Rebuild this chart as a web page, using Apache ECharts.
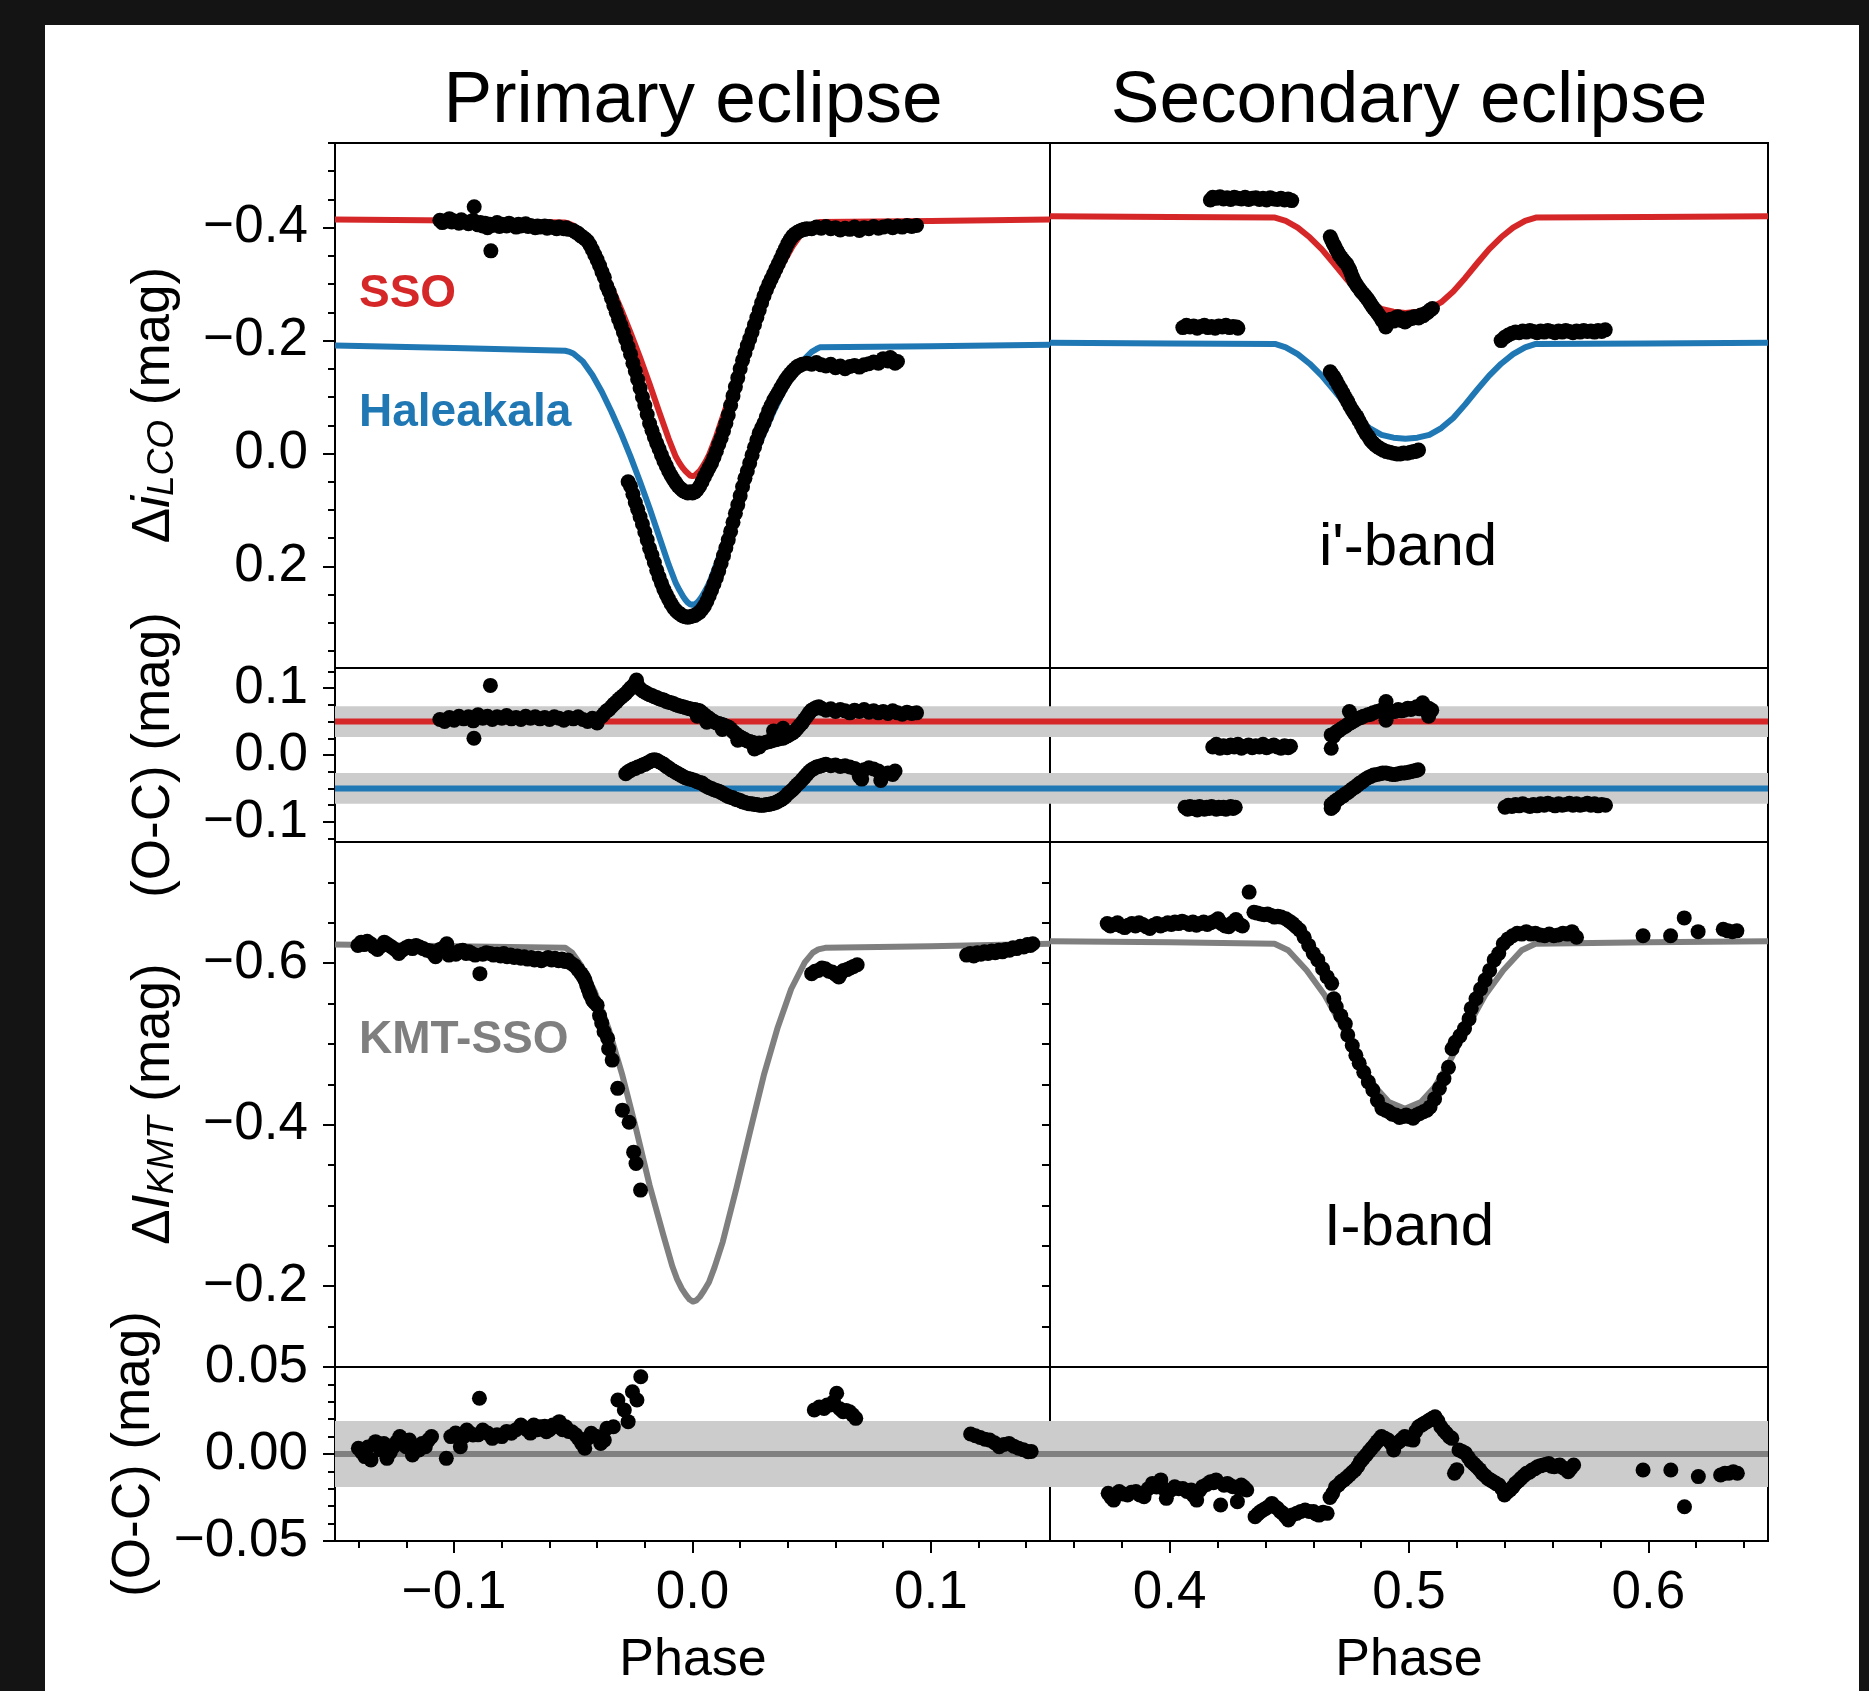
<!DOCTYPE html>
<html>
<head>
<meta charset="utf-8">
<script src="https://cdn.jsdelivr.net/npm/echarts@6/dist/echarts.min.js"></script>
<style>
html,body{margin:0;padding:0;background:#141414;width:1869px;height:1691px;overflow:hidden}
#chart{position:absolute;left:45px;top:25px;width:1814px;height:1666px;background:#ffffff}
</style>
</head>
<body>
<div id="chart"></div>
<script>
// ---------------- axis ranges & ticks ----------------
const X_LEFT = [-0.15, 0.15];
const X_RIGHT = [0.35, 0.65];
const X_MAJOR_LEFT = [-0.1, 0.0, 0.1];
const X_MINOR_LEFT = [-0.14, -0.12, -0.08, -0.06, -0.04, -0.02, 0.02, 0.04, 0.06, 0.08, 0.12, 0.14];
const X_MAJOR_RIGHT = [0.4, 0.5, 0.6];
const X_MINOR_RIGHT = [0.36, 0.38, 0.42, 0.44, 0.46, 0.48, 0.52, 0.54, 0.56, 0.58, 0.62, 0.64];

const Y_LCO = [-0.55, 0.38];
const Y_LCO_MAJOR = [-0.4, -0.2, 0.0, 0.2];
const Y_LCO_MINOR = [-0.55, -0.5, -0.45, -0.35, -0.3, -0.25, -0.15, -0.1, -0.05, 0.05, 0.1, 0.15, 0.25, 0.3, 0.35];
const Y_OC1 = [-0.13, 0.13];
const Y_OC1_MAJOR = [0.1, 0.0, -0.1];
const Y_OC1_MINOR = [0.125, 0.075, 0.05, 0.025, -0.025, -0.05, -0.075, -0.125];
const Y_KMT = [-0.75, -0.10];
const Y_KMT_MAJOR = [-0.6, -0.4, -0.2];
const Y_KMT_MINOR = [-0.7, -0.65, -0.55, -0.5, -0.45, -0.35, -0.3, -0.25, -0.15];
const Y_KMT_RIGHT_TICKS = [-0.7, -0.65, -0.6, -0.55, -0.5, -0.45, -0.4, -0.35, -0.3, -0.25, -0.2, -0.15];
const Y_OC2 = [-0.05, 0.05];
const Y_OC2_MAJOR = [0.05, 0.0, -0.05];
const Y_OC2_MINOR = [0.04, 0.03, 0.02, 0.01, -0.01, -0.02, -0.03, -0.04];

// O-C reference levels and shaded half widths
const OC1_LEVELS = [0.05, -0.05];   // SSO, Haleakala
const OC1_BAND = 0.023;
const OC2_LEVEL = 0.0;
const OC2_BAND = 0.019;

// ---------------- models ----------------
const model_sso_primary = [[-0.150,-0.4145],[-0.100,-0.4125],[-0.0534,-0.409],[-0.052,-0.4075],[-0.050,-0.404],[-0.046,-0.389],[-0.042,-0.363],[-0.038,-0.331],[-0.034,-0.295],[-0.030,-0.256],[-0.026,-0.214],[-0.022,-0.170],[-0.018,-0.123],[-0.014,-0.074],[-0.010,-0.026],[-0.007,0.006],[-0.0055,0.017],[-0.004,0.026],[-0.003,0.031],[-0.002,0.035],[-0.001,0.039],[0.000,0.040],[0.001,0.039],[0.002,0.035],[0.003,0.031],[0.004,0.025],[0.0055,0.0145],[0.007,0.002],[0.010,-0.031],[0.014,-0.081],[0.018,-0.131],[0.022,-0.178],[0.026,-0.222],[0.030,-0.264],[0.034,-0.302],[0.038,-0.337],[0.042,-0.367],[0.046,-0.391],[0.050,-0.405],[0.052,-0.408],[0.0534,-0.410],[0.100,-0.412],[0.150,-0.4145]];
const model_hal_primary = [[-0.150,-0.1915],[-0.100,-0.187],[-0.0534,-0.182],[-0.052,-0.1805],[-0.050,-0.177],[-0.046,-0.163],[-0.042,-0.139],[-0.038,-0.109],[-0.034,-0.074],[-0.030,-0.036],[-0.026,0.0056],[-0.022,0.050],[-0.018,0.097],[-0.014,0.147],[-0.010,0.197],[-0.007,0.2298],[-0.0055,0.242],[-0.004,0.253],[-0.003,0.259],[-0.002,0.264],[-0.001,0.267],[0.000,0.268],[0.001,0.267],[0.002,0.264],[0.003,0.259],[0.004,0.253],[0.0055,0.242],[0.007,0.2298],[0.010,0.197],[0.014,0.147],[0.018,0.097],[0.022,0.050],[0.026,0.0056],[0.030,-0.036],[0.034,-0.074],[0.038,-0.109],[0.042,-0.139],[0.046,-0.163],[0.050,-0.180],[0.052,-0.185],[0.0534,-0.188],[0.100,-0.190],[0.150,-0.1925]];
const model_sso_secondary = [[0.350,-0.4204],[0.400,-0.419],[0.444,-0.418],[0.4485,-0.412],[0.4535,-0.400],[0.4585,-0.383],[0.4635,-0.362],[0.4685,-0.337],[0.4735,-0.311],[0.4785,-0.287],[0.4835,-0.268],[0.4885,-0.256],[0.4935,-0.251],[0.4985,-0.249],[0.5035,-0.251],[0.5085,-0.256],[0.5135,-0.268],[0.5185,-0.287],[0.5235,-0.311],[0.5285,-0.337],[0.5335,-0.362],[0.5385,-0.383],[0.5435,-0.400],[0.5485,-0.412],[0.553,-0.418],[0.600,-0.419],[0.650,-0.4204]];
const model_hal_secondary = [[0.350,-0.1962],[0.400,-0.195],[0.444,-0.194],[0.4485,-0.188],[0.4535,-0.176],[0.4585,-0.159],[0.4635,-0.138],[0.4685,-0.113],[0.4735,-0.087],[0.4785,-0.063],[0.4835,-0.045],[0.4885,-0.033],[0.4935,-0.028],[0.4985,-0.026],[0.5035,-0.028],[0.5085,-0.033],[0.5135,-0.045],[0.5185,-0.063],[0.5235,-0.087],[0.5285,-0.113],[0.5335,-0.138],[0.5385,-0.159],[0.5435,-0.176],[0.5485,-0.188],[0.553,-0.194],[0.600,-0.195],[0.650,-0.1962]];
const model_kmt_primary = [[-0.150,-0.623],[-0.100,-0.621],[-0.0534,-0.619],[-0.0505,-0.613],[-0.0467,-0.597],[-0.0409,-0.564],[-0.0352,-0.519],[-0.0294,-0.461],[-0.0237,-0.395],[-0.018,-0.325],[-0.0122,-0.263],[-0.0085,-0.225],[-0.0065,-0.209],[-0.0045,-0.197],[-0.0027,-0.189],[-0.0012,-0.1835],[0.0002,-0.181],[0.0016,-0.1825],[0.0031,-0.187],[0.0049,-0.195],[0.0069,-0.205],[0.0092,-0.223],[0.0127,-0.255],[0.0184,-0.321],[0.0241,-0.391],[0.0299,-0.461],[0.0356,-0.519],[0.0414,-0.568],[0.0471,-0.601],[0.0505,-0.613],[0.0528,-0.617],[0.0557,-0.619],[0.100,-0.621],[0.150,-0.624]];
const model_kmt_secondary = [[0.350,-0.627],[0.400,-0.626],[0.4438,-0.6241],[0.4495,-0.6159],[0.4572,-0.5911],[0.4648,-0.5602],[0.4725,-0.5189],[0.4801,-0.4756],[0.4859,-0.4467],[0.4916,-0.4281],[0.4983,-0.4198],[0.505,-0.4281],[0.5107,-0.4467],[0.5165,-0.4756],[0.5241,-0.5189],[0.5318,-0.5602],[0.5394,-0.5911],[0.5471,-0.6159],[0.5528,-0.6241],[0.600,-0.626],[0.650,-0.627]];

// ---------------- observations (phase, mag) ----------------
const sso_primary = [[-0.106,-0.413],[-0.105,-0.409],[-0.104,-0.411],[-0.102,-0.416],[-0.101,-0.410],[-0.100,-0.412],[-0.098,-0.408],[-0.097,-0.414],[-0.096,-0.410],[-0.094,-0.407],[-0.093,-0.411],[-0.092,-0.413],[-0.0916,-0.437],[-0.090,-0.405],[-0.089,-0.409],[-0.088,-0.403],[-0.087,-0.408],[-0.086,-0.400],[-0.085,-0.406],[-0.0846,-0.359],[-0.084,-0.404],[-0.082,-0.409],[-0.081,-0.402],[-0.080,-0.406],[-0.078,-0.403],[-0.077,-0.408],[-0.076,-0.405],[-0.074,-0.401],[-0.073,-0.406],[-0.072,-0.403],[-0.070,-0.407],[-0.069,-0.402],[-0.068,-0.404],[-0.066,-0.400],[-0.065,-0.403],[-0.064,-0.401],[-0.062,-0.403],[-0.061,-0.399],[-0.060,-0.402],[-0.058,-0.400],[-0.057,-0.398],[-0.056,-0.401],[-0.054,-0.398],[-0.053,-0.400],[-0.052,-0.397],[-0.050,-0.395],[-0.049,-0.392],[-0.048,-0.390],[-0.047,-0.386],
[-0.046,-0.383],[-0.045,-0.380],[-0.044,-0.376],[-0.043,-0.369],[-0.042,-0.361],[-0.041,-0.352],[-0.040,-0.343],[-0.039,-0.333],[-0.038,-0.322],[-0.037,-0.312],[-0.036,-0.297],[-0.035,-0.287],[-0.034,-0.275],[-0.033,-0.262],[-0.032,-0.250],[-0.031,-0.238],[-0.030,-0.227],[-0.029,-0.215],[-0.028,-0.202],[-0.027,-0.189],[-0.026,-0.176],[-0.025,-0.160],[-0.024,-0.146],[-0.023,-0.131],[-0.022,-0.116],[-0.021,-0.100],[-0.020,-0.085],[-0.019,-0.069],[-0.018,-0.053],[-0.017,-0.041],[-0.016,-0.029],[-0.015,-0.018],[-0.014,-0.008],[-0.013,0.003],[-0.012,0.013],[-0.011,0.022],[-0.010,0.031],[-0.009,0.039],[-0.008,0.046],[-0.007,0.052],[-0.006,0.058],[-0.005,0.062],[-0.004,0.066],[-0.003,0.068],[-0.002,0.070],[-0.001,0.068],[0.000,0.070],
[0.001,0.068],[0.002,0.064],[0.003,0.058],[0.004,0.050],[0.005,0.041],[0.006,0.033],[0.007,0.025],[0.008,0.017],[0.009,0.007],[0.010,-0.004],[0.011,-0.016],[0.012,-0.027],[0.013,-0.040],[0.014,-0.053],[0.015,-0.068],[0.016,-0.085],[0.017,-0.102],[0.018,-0.118],[0.019,-0.134],[0.020,-0.150],[0.021,-0.165],[0.022,-0.178],[0.023,-0.191],[0.024,-0.203],[0.025,-0.215],[0.026,-0.228],[0.027,-0.241],[0.028,-0.254],[0.029,-0.267],[0.030,-0.279],[0.031,-0.290],[0.032,-0.300],[0.033,-0.309],[0.034,-0.318],[0.035,-0.327],[0.036,-0.336],[0.037,-0.345],[0.038,-0.354],[0.039,-0.363],[0.040,-0.372],[0.041,-0.379],[0.042,-0.385],[0.043,-0.389],[0.044,-0.392],[0.045,-0.394],[0.046,-0.396],[0.047,-0.397],[0.048,-0.398],
[0.050,-0.398],[0.052,-0.401],[0.054,-0.399],[0.056,-0.402],[0.058,-0.398],[0.060,-0.400],[0.062,-0.396],[0.064,-0.399],[0.066,-0.397],[0.068,-0.401],[0.070,-0.395],[0.072,-0.400],[0.074,-0.398],[0.076,-0.402],[0.078,-0.399],[0.080,-0.401],[0.082,-0.403],[0.084,-0.400],[0.086,-0.403],[0.088,-0.401],[0.090,-0.404],[0.092,-0.402],[0.094,-0.404]];

const hal_primary = [[-0.027,0.050],[-0.026,0.058],[-0.025,0.072],[-0.024,0.087],[-0.023,0.099],[-0.022,0.112],[-0.021,0.125],[-0.020,0.139],[-0.019,0.153],[-0.018,0.168],[-0.017,0.180],[-0.016,0.193],[-0.015,0.207],[-0.014,0.219],[-0.013,0.230],[-0.012,0.241],[-0.011,0.250],[-0.010,0.258],[-0.009,0.266],[-0.008,0.273],[-0.007,0.278],[-0.006,0.282],[-0.005,0.285],[-0.004,0.288],[-0.003,0.289],[-0.002,0.290],[-0.001,0.289],[0.000,0.288],[0.001,0.287],[0.002,0.284],[0.003,0.281],[0.004,0.276],[0.005,0.270],[0.006,0.262],[0.007,0.252],[0.008,0.242],[0.009,0.231],[0.010,0.220],[0.011,0.208],[0.012,0.195],[0.013,0.181],[0.014,0.167],[0.015,0.153],[0.016,0.138],[0.017,0.122],[0.018,0.106],[0.019,0.091],[0.020,0.075],[0.021,0.059],[0.022,0.044],[0.023,0.031],[0.024,0.017],[0.025,0.003],[0.026,-0.011],[0.027,-0.024],[0.028,-0.036],[0.029,-0.045],[0.030,-0.054],[0.031,-0.065],[0.032,-0.076],[0.033,-0.085],[0.034,-0.094],[0.035,-0.101],[0.036,-0.108],[0.037,-0.116],[0.038,-0.123],[0.039,-0.130],[0.040,-0.136],[0.041,-0.141],[0.042,-0.146],[0.043,-0.150],[0.044,-0.154],[0.045,-0.156],[0.046,-0.158],
[0.048,-0.160],[0.050,-0.158],[0.052,-0.161],[0.054,-0.157],[0.056,-0.155],[0.058,-0.158],[0.060,-0.152],[0.062,-0.155],[0.064,-0.150],[0.066,-0.154],[0.068,-0.156],[0.070,-0.153],[0.072,-0.157],[0.074,-0.159],[0.076,-0.162],[0.078,-0.160],[0.080,-0.168],[0.082,-0.164],[0.083,-0.170],[0.084,-0.166],[0.085,-0.160],[0.086,-0.163]];

const sso_secondary = [[0.417,-0.449],[0.418,-0.454],[0.4195,-0.452],[0.421,-0.455],[0.4225,-0.451],[0.424,-0.453],[0.4255,-0.450],[0.427,-0.454],[0.4285,-0.452],[0.430,-0.451],[0.4315,-0.454],[0.433,-0.450],[0.4345,-0.452],[0.436,-0.453],[0.4375,-0.450],[0.439,-0.452],[0.4405,-0.449],[0.442,-0.453],[0.4435,-0.451],[0.445,-0.450],[0.4465,-0.452],[0.448,-0.449],[0.4495,-0.451],[0.451,-0.448],
[0.4671,-0.3838],[0.4677,-0.378],[0.4683,-0.372],[0.469,-0.367],[0.4696,-0.3614],[0.4703,-0.356],[0.4709,-0.3513],[0.4717,-0.347],[0.4725,-0.3425],[0.4732,-0.339],[0.474,-0.3354],[0.4747,-0.330],[0.4753,-0.3248],[0.4758,-0.319],[0.4763,-0.313],[0.4768,-0.308],[0.4772,-0.3042],[0.4779,-0.300],[0.4786,-0.2953],[0.4794,-0.291],[0.4801,-0.2865],[0.4809,-0.283],[0.4817,-0.2788],[0.4824,-0.275],[0.483,-0.2717],[0.4837,-0.267],[0.4843,-0.2629],[0.4851,-0.258],[0.4859,-0.254],[0.4866,-0.250],[0.4874,-0.2452],[0.4881,-0.241],[0.4887,-0.2363],[0.4895,-0.232],[0.4903,-0.2240],[0.491,-0.230],[0.4916,-0.2363],[0.4925,-0.238],[0.4935,-0.2345],[0.4945,-0.241],[0.4954,-0.2422],[0.4963,-0.236],[0.4973,-0.2393],[0.4983,-0.233],[0.4993,-0.2363],[0.5002,-0.240],[0.5012,-0.2393],[0.5021,-0.242],[0.5031,-0.2422],[0.504,-0.240],[0.505,-0.2452],[0.506,-0.244],[0.5069,-0.2481],[0.5078,-0.250],[0.5088,-0.254],[0.5098,-0.2569]];

const hal_secondary = [[0.4055,-0.223],[0.407,-0.227],[0.4085,-0.224],[0.410,-0.226],[0.4115,-0.222],[0.413,-0.225],[0.4145,-0.227],[0.416,-0.223],[0.4175,-0.225],[0.419,-0.222],[0.4205,-0.226],[0.422,-0.224],[0.4235,-0.227],[0.425,-0.223],[0.4265,-0.225],[0.428,-0.224],[0.4285,-0.222],
[0.4671,-0.1449],[0.4678,-0.140],[0.4686,-0.136],[0.4695,-0.129],[0.4705,-0.1213],[0.4715,-0.114],[0.4725,-0.1065],[0.4734,-0.099],[0.4744,-0.0918],[0.4753,-0.084],[0.4763,-0.077],[0.4772,-0.071],[0.4782,-0.0652],[0.4791,-0.058],[0.4801,-0.0505],[0.481,-0.043],[0.482,-0.0357],[0.483,-0.030],[0.4839,-0.0239],[0.4849,-0.019],[0.4859,-0.015],[0.4868,-0.012],[0.4878,-0.0092],[0.4892,-0.006],[0.4906,-0.0033],[0.492,-0.002],[0.4935,-0.0003],[0.495,0.001],[0.4964,0.0009],[0.4978,-0.001],[0.4993,-0.0003],[0.5007,-0.002],[0.5021,-0.0033],[0.503,-0.004],[0.504,-0.006],
[0.5385,-0.200],[0.540,-0.206],[0.5415,-0.210],[0.543,-0.213],[0.5445,-0.215],[0.546,-0.214],[0.5475,-0.217],[0.549,-0.215],[0.5505,-0.218],[0.552,-0.216],[0.5535,-0.214],[0.555,-0.217],[0.5565,-0.215],[0.558,-0.218],[0.5595,-0.216],[0.561,-0.214],[0.5625,-0.217],[0.564,-0.215],[0.5655,-0.218],[0.567,-0.216],[0.5685,-0.214],[0.570,-0.217],[0.5715,-0.215],[0.573,-0.218],[0.5745,-0.216],[0.576,-0.217],[0.5775,-0.215],[0.579,-0.218],[0.5805,-0.216],[0.582,-0.219]];

const oc_sso_primary = [[-0.106,0.053],[-0.104,0.050],[-0.102,0.056],[-0.100,0.052],[-0.098,0.058],[-0.096,0.054],[-0.094,0.057],[-0.092,0.051],[-0.0917,0.025],[-0.090,0.060],[-0.088,0.055],[-0.086,0.058],[-0.0848,0.104],[-0.084,0.053],[-0.082,0.057],[-0.080,0.055],[-0.078,0.059],[-0.076,0.054],[-0.074,0.056],[-0.072,0.053],[-0.070,0.058],[-0.068,0.055],[-0.066,0.057],[-0.064,0.054],[-0.062,0.056],[-0.060,0.053],[-0.058,0.057],[-0.056,0.055],[-0.054,0.052],[-0.052,0.056],[-0.050,0.054],[-0.048,0.057],[-0.046,0.053],[-0.044,0.050],[-0.042,0.055],[-0.040,0.048],[-0.038,0.058],
[-0.037,0.062],[-0.036,0.066],[-0.035,0.068],[-0.034,0.072],[-0.033,0.076],[-0.032,0.079],[-0.031,0.083],[-0.030,0.086],[-0.029,0.089],[-0.028,0.092],[-0.027,0.096],[-0.026,0.100],[-0.025,0.103],[-0.024,0.108],[-0.0235,0.112],[-0.023,0.104],[-0.022,0.099],[-0.021,0.096],[-0.020,0.094],[-0.019,0.092],[-0.018,0.090],[-0.017,0.089],[-0.016,0.087],[-0.015,0.086],[-0.014,0.084],[-0.013,0.083],[-0.012,0.082],[-0.011,0.080],[-0.010,0.079],[-0.009,0.078],[-0.008,0.077],[-0.007,0.075],[-0.006,0.074],[-0.005,0.073],[-0.004,0.072],[-0.003,0.071],[-0.002,0.070],[-0.001,0.069],[0.000,0.068],[0.001,0.068],[0.002,0.067],[0.002,0.058],[0.003,0.066],[0.004,0.063],[0.005,0.060],[0.006,0.057],[0.006,0.049],[0.007,0.055],[0.008,0.052],[0.009,0.050],[0.010,0.048],[0.011,0.047],[0.012,0.046],[0.0125,0.038],[0.013,0.045],[0.014,0.043],[0.015,0.042],[0.016,0.039],[0.017,0.035],[0.018,0.032],[0.019,0.029],[0.019,0.022],[0.020,0.027],[0.021,0.025],[0.022,0.023],[0.023,0.021],[0.024,0.020],[0.025,0.019],[0.026,0.018],[0.026,0.009],[0.027,0.017],[0.028,0.018],[0.028,0.012],[0.029,0.017],[0.030,0.018],[0.031,0.019],[0.032,0.020],[0.033,0.021],[0.034,0.022],[0.034,0.036],[0.035,0.023],[0.036,0.024],[0.037,0.025],[0.038,0.025],[0.038,0.040],[0.039,0.027],[0.040,0.029],[0.041,0.031],[0.042,0.033],[0.043,0.036],[0.044,0.040],[0.045,0.044],[0.046,0.048],[0.047,0.053],[0.048,0.058],[0.049,0.063],[0.050,0.067],[0.051,0.069],[0.052,0.071],[0.053,0.072],[0.054,0.070],
[0.056,0.067],[0.058,0.069],[0.060,0.065],[0.062,0.068],[0.064,0.066],[0.066,0.063],[0.068,0.067],[0.070,0.065],[0.072,0.068],[0.074,0.064],[0.076,0.066],[0.078,0.063],[0.080,0.065],[0.082,0.062],[0.084,0.066],[0.086,0.063],[0.088,0.061],[0.090,0.064],[0.092,0.062],[0.094,0.063]];

const oc_hal_primary = [[-0.028,-0.028],[-0.027,-0.025],[-0.026,-0.023],[-0.025,-0.021],[-0.024,-0.020],[-0.023,-0.018],[-0.022,-0.017],[-0.021,-0.015],[-0.020,-0.014],[-0.019,-0.012],[-0.018,-0.010],[-0.017,-0.008],[-0.016,-0.007],[-0.015,-0.008],[-0.014,-0.010],[-0.013,-0.012],[-0.012,-0.014],[-0.011,-0.017],[-0.010,-0.019],[-0.009,-0.022],[-0.008,-0.024],[-0.007,-0.026],[-0.006,-0.028],[-0.005,-0.030],[-0.004,-0.032],[-0.003,-0.034],[-0.002,-0.035],[-0.001,-0.036],[0.000,-0.037],[0.001,-0.038],[0.002,-0.040],[0.003,-0.041],[0.004,-0.042],[0.005,-0.045],[0.006,-0.047],[0.007,-0.049],[0.008,-0.050],[0.009,-0.052],[0.010,-0.053],[0.011,-0.054],[0.012,-0.056],[0.013,-0.058],[0.014,-0.060],[0.015,-0.062],[0.016,-0.063],[0.017,-0.064],[0.018,-0.066],[0.019,-0.067],[0.020,-0.068],[0.021,-0.070],[0.022,-0.071],[0.023,-0.072],[0.024,-0.073],[0.025,-0.073],[0.026,-0.074],[0.027,-0.074],[0.028,-0.075],[0.029,-0.075],[0.030,-0.075],[0.031,-0.074],[0.032,-0.074],[0.033,-0.073],[0.034,-0.072],[0.035,-0.071],[0.036,-0.069],[0.037,-0.067],[0.038,-0.065],[0.039,-0.062],[0.040,-0.058],[0.041,-0.055],[0.042,-0.052],[0.043,-0.048],[0.044,-0.044],[0.045,-0.041],[0.046,-0.037],[0.047,-0.033],[0.048,-0.029],[0.049,-0.025],[0.050,-0.022],[0.051,-0.020],[0.052,-0.018],[0.053,-0.017],[0.054,-0.016],[0.055,-0.015],[0.056,-0.014],[0.058,-0.016],[0.060,-0.015],[0.062,-0.017],[0.064,-0.016],[0.066,-0.018],[0.068,-0.020],[0.070,-0.032],[0.071,-0.036],[0.072,-0.022],[0.074,-0.019],[0.076,-0.021],[0.078,-0.024],[0.079,-0.038],[0.080,-0.030],[0.082,-0.027],[0.084,-0.029],[0.085,-0.024]];

const oc_sso_secondary = [[0.418,0.012],[0.4195,0.016],[0.421,0.010],[0.4225,0.014],[0.424,0.011],[0.4255,0.015],[0.427,0.012],[0.4285,0.016],[0.430,0.010],[0.4315,0.013],[0.433,0.015],[0.4345,0.011],[0.436,0.014],[0.4375,0.012],[0.439,0.016],[0.4405,0.011],[0.442,0.013],[0.4435,0.015],[0.445,0.012],[0.4465,0.010],[0.448,0.014],[0.4495,0.011],[0.4505,0.013],
[0.4675,0.030],[0.4675,0.010],[0.4685,0.028],[0.4695,0.034],[0.4705,0.036],[0.4713,0.038],[0.4725,0.041],[0.4735,0.043],[0.4745,0.046],[0.4751,0.065],[0.4755,0.048],[0.4765,0.050],[0.4775,0.052],[0.4789,0.055],[0.480,0.056],[0.481,0.058],[0.4828,0.060],[0.484,0.061],[0.485,0.063],[0.4866,0.065],[0.488,0.066],[0.489,0.068],[0.4904,0.070],[0.4904,0.080],[0.4904,0.052],[0.4915,0.067],[0.4925,0.064],[0.4942,0.065],[0.4955,0.068],[0.4968,0.066],[0.498,0.067],[0.4995,0.070],[0.5008,0.068],[0.5019,0.070],[0.5032,0.072],[0.5045,0.069],[0.5057,0.072],[0.5057,0.078],[0.507,0.068],[0.5082,0.070],[0.5082,0.058],[0.5095,0.067]];

const oc_hal_secondary = [[0.4064,-0.078],[0.4075,-0.081],[0.4085,-0.077],[0.4095,-0.080],[0.4105,-0.078],[0.4115,-0.082],[0.4125,-0.077],[0.4135,-0.079],[0.4145,-0.081],[0.4155,-0.078],[0.4165,-0.080],[0.4175,-0.077],[0.4185,-0.079],[0.4195,-0.081],[0.4205,-0.078],[0.4215,-0.080],[0.4225,-0.078],[0.4235,-0.081],[0.4245,-0.079],[0.4255,-0.077],[0.4265,-0.080],[0.4274,-0.078],
[0.4675,-0.074],[0.4675,-0.080],[0.4685,-0.071],[0.4685,-0.077],[0.4695,-0.068],[0.4705,-0.066],[0.4715,-0.063],[0.4725,-0.061],[0.4735,-0.058],[0.4745,-0.056],[0.4755,-0.053],[0.4765,-0.050],[0.4775,-0.048],[0.4785,-0.045],[0.4795,-0.042],[0.4805,-0.040],[0.4815,-0.037],[0.4828,-0.034],[0.484,-0.032],[0.4852,-0.030],[0.4866,-0.029],[0.488,-0.028],[0.489,-0.027],[0.4904,-0.027],[0.4918,-0.028],[0.493,-0.029],[0.4942,-0.029],[0.4955,-0.028],[0.4968,-0.027],[0.498,-0.027],[0.4993,-0.026],[0.5006,-0.025],[0.5019,-0.024],[0.503,-0.023],[0.5038,-0.022],
[0.5401,-0.078],[0.5415,-0.075],[0.543,-0.077],[0.5445,-0.074],[0.546,-0.076],[0.5475,-0.073],[0.549,-0.075],[0.5505,-0.077],[0.552,-0.074],[0.5535,-0.076],[0.555,-0.073],[0.5565,-0.075],[0.558,-0.072],[0.5595,-0.074],[0.561,-0.076],[0.5625,-0.073],[0.564,-0.075],[0.5655,-0.074],[0.567,-0.072],[0.5685,-0.075],[0.570,-0.073],[0.5715,-0.075],[0.573,-0.074],[0.5745,-0.072],[0.576,-0.075],[0.5775,-0.073],[0.579,-0.076],[0.5805,-0.074],[0.5821,-0.075]];

const kmt_primary = [[-0.1404,-0.622],[-0.1390,-0.626],[-0.1378,-0.623],[-0.1365,-0.627],[-0.1350,-0.624],[-0.1336,-0.620],[-0.1322,-0.617],[-0.1308,-0.621],[-0.1293,-0.626],[-0.1278,-0.623],[-0.1262,-0.620],[-0.1248,-0.617],[-0.1232,-0.612],[-0.1218,-0.616],[-0.1203,-0.619],[-0.1190,-0.621],[-0.1175,-0.618],[-0.1160,-0.622],[-0.1145,-0.620],[-0.1130,-0.618],[-0.1115,-0.616],[-0.1100,-0.615],[-0.1088,-0.612],[-0.1078,-0.608],[-0.1060,-0.617],[-0.1045,-0.619],[-0.1031,-0.624],[-0.1022,-0.610],[-0.1008,-0.613],[-0.0993,-0.611],[-0.0978,-0.615],[-0.0964,-0.616],[-0.0950,-0.612],[-0.0938,-0.614],[-0.0926,-0.612],[-0.0912,-0.610],[-0.0892,-0.587],[-0.0880,-0.611],[-0.0865,-0.613],[-0.0849,-0.612],[-0.0835,-0.610],[-0.0820,-0.611],[-0.0805,-0.609],[-0.0792,-0.612],[-0.0778,-0.608],[-0.0763,-0.610],[-0.0748,-0.607],[-0.0735,-0.609],[-0.0720,-0.606],[-0.0706,-0.608],[-0.0692,-0.605],[-0.0677,-0.607],[-0.0663,-0.604],[-0.0648,-0.606],[-0.0634,-0.603],[-0.0620,-0.605],[-0.0606,-0.607],[-0.0591,-0.604],[-0.0577,-0.606],[-0.0562,-0.603],[-0.0548,-0.605],[-0.0535,-0.602],[-0.0524,-0.604],[-0.0510,-0.600],[-0.0495,-0.597],[-0.0481,-0.592],[-0.0467,-0.587],[-0.0458,-0.583],[-0.0451,-0.579],[-0.0444,-0.573],[-0.0438,-0.568],[-0.0432,-0.563],[-0.0428,-0.560],[-0.0419,-0.554],[-0.0410,-0.551],[-0.0400,-0.548],[-0.0390,-0.535],[-0.0381,-0.526],[-0.0371,-0.515],[-0.0356,-0.507],[-0.0352,-0.494],[-0.0337,-0.480],[-0.0314,-0.445],[-0.0294,-0.418],[-0.0266,-0.403],[-0.0247,-0.366],[-0.0237,-0.352],[-0.0218,-0.319],
[0.0500,-0.587],[0.0514,-0.590],[0.0528,-0.591],[0.0543,-0.594],[0.0557,-0.593],[0.0572,-0.590],[0.0586,-0.589],[0.0600,-0.586],[0.0614,-0.583],[0.0624,-0.588],[0.0634,-0.591],[0.0648,-0.592],[0.0662,-0.594],[0.0676,-0.596],[0.0691,-0.598],
[0.1150,-0.610],[0.1165,-0.612],[0.1180,-0.609],[0.1195,-0.613],[0.1210,-0.611],[0.1225,-0.614],[0.1240,-0.612],[0.1255,-0.615],[0.1270,-0.613],[0.1285,-0.616],[0.1300,-0.614],[0.1315,-0.617],[0.1330,-0.616],[0.1345,-0.619],[0.1360,-0.618],[0.1375,-0.621],[0.1390,-0.620],[0.1405,-0.623],[0.1418,-0.622],[0.1428,-0.624]];

const kmt_secondary = [[0.3739,-0.649],[0.3752,-0.646],[0.3768,-0.648],[0.3782,-0.650],[0.3797,-0.646],[0.3812,-0.644],[0.3827,-0.647],[0.3842,-0.649],[0.3857,-0.646],[0.3872,-0.650],[0.3887,-0.648],[0.3902,-0.645],[0.3917,-0.643],[0.3932,-0.647],[0.3947,-0.649],[0.3962,-0.646],[0.3977,-0.648],[0.3992,-0.650],[0.4007,-0.648],[0.4022,-0.651],[0.4037,-0.649],[0.4052,-0.652],[0.4067,-0.650],[0.4082,-0.648],[0.4097,-0.651],[0.4112,-0.647],[0.4127,-0.649],[0.4142,-0.651],[0.4157,-0.648],[0.4172,-0.650],[0.4187,-0.652],[0.4202,-0.655],[0.4217,-0.649],[0.4232,-0.646],[0.4247,-0.645],[0.4262,-0.650],[0.4277,-0.654],[0.4292,-0.648],[0.4304,-0.646],
[0.4332,-0.688],[0.4352,-0.663],[0.4366,-0.662],[0.438,-0.661],[0.4395,-0.660],[0.4409,-0.661],[0.4424,-0.659],[0.4438,-0.657],[0.4452,-0.658],[0.4466,-0.657],[0.4485,-0.655],[0.4500,-0.652],[0.4514,-0.649],[0.4528,-0.645],[0.4543,-0.641],[0.4562,-0.632],[0.4581,-0.622],[0.46,-0.612],[0.4619,-0.604],[0.4639,-0.593],[0.4658,-0.583],[0.4677,-0.575],[0.4686,-0.556],[0.4696,-0.546],[0.4715,-0.535],[0.4734,-0.525],[0.4744,-0.511],[0.4763,-0.498],[0.4778,-0.486],[0.4792,-0.476],[0.4811,-0.465],[0.483,-0.453],[0.4849,-0.443],[0.4868,-0.430],[0.4887,-0.420],[0.4902,-0.418],[0.4916,-0.416],[0.4930,-0.413],[0.4945,-0.412],[0.4960,-0.409],[0.4973,-0.410],[0.4988,-0.412],[0.5002,-0.410],[0.5017,-0.408],[0.5031,-0.412],[0.5045,-0.414],[0.506,-0.416],[0.5075,-0.418],[0.5088,-0.422],[0.5107,-0.432],[0.5127,-0.445],[0.5146,-0.457],[0.5165,-0.471],[0.518,-0.494],[0.5193,-0.502],[0.5213,-0.510],[0.5232,-0.519],[0.5251,-0.531],[0.526,-0.544],[0.528,-0.556],[0.5299,-0.568],[0.5318,-0.579],[0.5337,-0.591],[0.5356,-0.604],[0.5375,-0.612],[0.5394,-0.624],[0.5414,-0.630],[0.5433,-0.634],[0.5452,-0.637],[0.5471,-0.636],[0.549,-0.639],[0.5509,-0.636],[0.5528,-0.637],[0.5548,-0.635],[0.5567,-0.634],[0.5586,-0.636],[0.5605,-0.634],[0.5624,-0.635],[0.5643,-0.637],[0.5662,-0.636],[0.5681,-0.639],[0.57,-0.632],
[0.5978,-0.634],[0.6093,-0.634],[0.615,-0.656],[0.6208,-0.639],[0.6313,-0.642],[0.6332,-0.640],[0.6351,-0.639],[0.637,-0.640]];

const oc_kmt_primary = [[-0.1402,0.0033],[-0.1388,0.0010],[-0.1375,-0.0015],[-0.1362,0.0040],[-0.1349,-0.0034],[-0.1330,0.0071],[-0.1309,0.0023],[-0.1295,0.0060],[-0.1282,-0.0025],[-0.1268,0.0010],[-0.1255,0.0042],[-0.1241,0.0070],[-0.1228,0.0100],[-0.1215,0.0060],[-0.1202,0.0042],[-0.1188,0.0080],[-0.1175,-0.0006],[-0.1161,0.0030],[-0.1148,0.0023],[-0.1135,0.0060],[-0.1121,0.0042],[-0.1108,0.0080],[-0.1095,0.0100],[-0.1033,-0.0025],[-0.1014,0.0100],[-0.0994,0.0120],[-0.0974,0.0042],[-0.0960,0.0100],[-0.0947,0.0138],[-0.0934,0.0120],[-0.0921,0.0109],[-0.0894,0.0320],[-0.0900,0.0110],[-0.0880,0.0138],[-0.0860,0.0120],[-0.0840,0.0090],[-0.0820,0.0110],[-0.0800,0.0100],[-0.0780,0.0130],[-0.0760,0.0119],[-0.0740,0.0140],[-0.0720,0.0167],[-0.0700,0.0150],[-0.0693,0.0138],[-0.0680,0.0120],[-0.0666,0.0167],[-0.0650,0.0140],[-0.0639,0.0157],[-0.0620,0.0160],[-0.0613,0.0128],[-0.0600,0.0140],[-0.0586,0.0167],[-0.0570,0.0160],[-0.0559,0.0186],[-0.0545,0.0140],[-0.0532,0.0157],[-0.0520,0.0130],[-0.0506,0.0128],[-0.0490,0.0110],[-0.0479,0.0090],[-0.0465,0.0060],[-0.0452,0.0033],[-0.0440,0.0090],[-0.0425,0.0119],[-0.0400,0.0100],[-0.0385,0.0061],[-0.0370,0.0080],[-0.0359,0.0148],[-0.0332,0.0157],[-0.0313,0.0310],[-0.0286,0.0253],[-0.0270,0.0186],[-0.0252,0.0358],[-0.0233,0.0310],[-0.0217,0.0444],
[0.0511,0.0253],[0.0532,0.0270],[0.0552,0.0262],[0.0565,0.0282],[0.0578,0.0282],[0.0592,0.0300],[0.0605,0.0349],[0.0618,0.0260],[0.0632,0.0243],[0.0645,0.0250],[0.0659,0.0243],[0.0672,0.0225],[0.0685,0.0205],
[0.1167,0.0115],[0.1187,0.0105],[0.1207,0.0095],[0.1227,0.0085],[0.1247,0.0080],[0.1267,0.0065],[0.1287,0.0042],[0.1307,0.0055],[0.1328,0.0061],[0.1348,0.0045],[0.1368,0.0033],[0.1388,0.0025],[0.1408,0.0013],[0.1421,0.0015]];

const oc_kmt_secondary = [[0.3743,-0.0226],[0.3755,-0.0250],[0.3766,-0.0265],[0.3778,-0.0230],[0.3789,-0.0216],[0.3805,-0.0230],[0.3824,-0.0236],[0.3840,-0.0220],[0.3859,-0.0216],[0.3875,-0.0235],[0.3893,-0.0245],[0.3910,-0.0200],[0.3928,-0.0169],[0.3945,-0.0190],[0.3963,-0.0149],[0.3975,-0.0200],[0.3986,-0.0255],[0.4003,-0.0210],[0.4021,-0.0188],[0.4038,-0.0200],[0.4055,-0.0198],[0.4072,-0.0215],[0.4090,-0.0207],[0.4100,-0.0240],[0.4113,-0.0265],[0.4125,-0.0210],[0.4137,-0.0188],[0.4155,-0.0175],[0.4171,-0.0159],[0.4183,-0.0165],[0.4194,-0.0149],[0.4213,-0.0293],[0.4227,-0.0180],[0.4241,-0.0169],[0.4252,-0.0180],[0.4264,-0.0188],[0.4283,-0.0274],[0.4290,-0.0200],[0.4299,-0.0178],[0.4310,-0.0190],[0.4322,-0.0207],
[0.4357,-0.0360],[0.4368,-0.0345],[0.4380,-0.0331],[0.4392,-0.0320],[0.4403,-0.0312],[0.4415,-0.0300],[0.4427,-0.0284],[0.4438,-0.0300],[0.4450,-0.0312],[0.4462,-0.0330],[0.4473,-0.0341],[0.4485,-0.0360],[0.4496,-0.0379],[0.4513,-0.0350],[0.4531,-0.0341],[0.4548,-0.0330],[0.4566,-0.0322],[0.4583,-0.0330],[0.4601,-0.0331],[0.4612,-0.0345],[0.4624,-0.0351],[0.4641,-0.0335],[0.4658,-0.0341],[0.4670,-0.0250],[0.4681,-0.0226],[0.4693,-0.0190],[0.4705,-0.0178],[0.4716,-0.0160],[0.4728,-0.0149],[0.4740,-0.0135],[0.4751,-0.0121],[0.4763,-0.0105],[0.4774,-0.0092],[0.4786,-0.0070],[0.4797,-0.0044],[0.4809,-0.0025],[0.4821,-0.0006],[0.4833,0.0015],[0.4844,0.0033],[0.4856,0.0052],[0.4867,0.0071],[0.4876,0.0085],[0.4885,0.0100],[0.4899,0.0090],[0.4913,0.0080],[0.4925,0.0060],[0.4936,0.0023],[0.4948,0.0060],[0.4959,0.0071],[0.4970,0.0085],[0.4982,0.0100],[0.4999,0.0085],[0.5017,0.0080],[0.5028,0.0130],[0.5040,0.0157],[0.5052,0.0166],[0.5063,0.0176],[0.5075,0.0185],[0.5086,0.0195],[0.5098,0.0205],[0.5109,0.0214],[0.5121,0.0190],[0.5133,0.0157],[0.5145,0.0135],[0.5156,0.0119],[0.5168,0.0100],[0.5179,0.0090],[0.5190,-0.0111],[0.5200,-0.0090],[0.5209,0.0023],[0.5222,0.0015],[0.5236,0.0004],[0.5248,-0.0020],[0.5260,-0.0044],[0.5272,-0.0058],[0.5283,-0.0073],[0.5295,-0.0090],[0.5306,-0.0111],[0.5318,-0.0125],[0.5329,-0.0140],[0.5341,-0.0150],[0.5352,-0.0159],[0.5364,-0.0170],[0.5376,-0.0178],[0.5388,-0.0200],[0.5399,-0.0235],[0.5410,-0.0220],[0.5422,-0.0207],[0.5434,-0.0190],[0.5445,-0.0169],[0.5457,-0.0155],[0.5468,-0.0140],[0.5480,-0.0125],[0.5491,-0.0111],[0.5503,-0.0105],[0.5514,-0.0092],[0.5526,-0.0085],[0.5537,-0.0073],[0.5549,-0.0068],[0.5561,-0.0063],[0.5572,-0.0060],[0.5584,-0.0054],[0.5595,-0.0070],[0.5607,-0.0073],[0.5618,-0.0068],[0.5630,-0.0063],[0.5645,-0.0080],[0.5665,-0.0102],[0.5675,-0.0085],[0.5688,-0.0063],
[0.5978,-0.0092],[0.6094,-0.0092],[0.6151,-0.0303],[0.6209,-0.0130],[0.6302,-0.0121],[0.6320,-0.0110],[0.6337,-0.0111],[0.6355,-0.0102],[0.6372,-0.0111]];

// ---------------- chart ----------------
const FONT = "'Liberation Sans', Arial, Helvetica, sans-serif";
const RED = '#d62728', BLUE = '#1f77b4', GRAY = '#7f7f7f', BANDC = '#cccccc', ZERO = '#808080';
const DOT = 15;
const LW = 6;

const chart = echarts.init(document.getElementById('chart'), null, {renderer: 'canvas'});

function fmt(n) { return v => (v < -1e-9 ? '\u2212' : '') + Math.abs(v).toFixed(n); }

const GRID_POS = [
  {left: 290, top: 118, width: 715, height: 525},
  {left: 1005, top: 118, width: 718, height: 525},
  {left: 290, top: 643, width: 715, height: 174},
  {left: 1005, top: 643, width: 718, height: 174},
  {left: 290, top: 817, width: 715, height: 525},
  {left: 1005, top: 817, width: 718, height: 525},
  {left: 290, top: 1342, width: 715, height: 174},
  {left: 1005, top: 1342, width: 718, height: 174}
];
const grids = GRID_POS.map(g => Object.assign({show: true, borderColor: '#000', borderWidth: 2, backgroundColor: 'transparent', containLabel: false}, g));

const tickStyle = {color: '#000', width: 2};
function hiddenAxis(gi, range, inverse) {
  return {type: 'value', gridIndex: gi, min: range[0], max: range[1], inverse: !!inverse, show: false,
    axisLine: {show: false, onZero: false}};
}
function labelledAxis(gi, range, inverse, major, dec, position, margin) {
  return {type: 'value', gridIndex: gi, min: range[0], max: range[1], inverse: !!inverse, position: position, offset: 0,
    axisLine: {show: false, onZero: false}, splitLine: {show: false},
    axisTick: {show: true, inside: false, length: 12, lineStyle: tickStyle, customValues: major},
    axisLabel: {show: true, customValues: major, formatter: fmt(dec), fontSize: 53, fontFamily: FONT, color: '#000', margin: margin,
      padding: position === 'left' ? [4, 0, 0, 0] : 0}};
}
function tickOnlyAxis(gi, range, inverse, ticks, len, position) {
  return {type: 'value', gridIndex: gi, min: range[0], max: range[1], inverse: !!inverse, position: position, offset: 0,
    axisLine: {show: false, onZero: false}, splitLine: {show: false}, axisLabel: {show: false},
    axisTick: {show: true, inside: false, length: len, lineStyle: tickStyle, customValues: ticks}};
}

const xAxis = [
  hiddenAxis(0, X_LEFT), hiddenAxis(1, X_RIGHT),
  hiddenAxis(2, X_LEFT), hiddenAxis(3, X_RIGHT),
  hiddenAxis(4, X_LEFT), hiddenAxis(5, X_RIGHT),
  labelledAxis(6, X_LEFT, false, X_MAJOR_LEFT, 1, 'bottom', 26),
  labelledAxis(7, X_RIGHT, false, X_MAJOR_RIGHT, 1, 'bottom', 26),
  tickOnlyAxis(6, X_LEFT, false, X_MINOR_LEFT, 7, 'bottom'),
  tickOnlyAxis(7, X_RIGHT, false, X_MINOR_RIGHT, 7, 'bottom')
];
const yAxis = [
  labelledAxis(0, Y_LCO, true, Y_LCO_MAJOR, 1, 'left', 27),
  hiddenAxis(1, Y_LCO, true),
  labelledAxis(2, Y_OC1, false, Y_OC1_MAJOR, 1, 'left', 27),
  hiddenAxis(3, Y_OC1),
  labelledAxis(4, Y_KMT, true, Y_KMT_MAJOR, 1, 'left', 27),
  tickOnlyAxis(5, Y_KMT, true, Y_KMT_RIGHT_TICKS, 8, 'left'),
  labelledAxis(6, Y_OC2, false, Y_OC2_MAJOR, 2, 'left', 27),
  hiddenAxis(7, Y_OC2),
  tickOnlyAxis(0, Y_LCO, true, Y_LCO_MINOR, 7, 'left'),
  tickOnlyAxis(2, Y_OC1, false, Y_OC1_MINOR, 7, 'left'),
  tickOnlyAxis(4, Y_KMT, true, Y_KMT_MINOR, 7, 'left'),
  tickOnlyAxis(6, Y_OC2, false, Y_OC2_MINOR, 7, 'left')
];

function modelLine(data, i, color) {
  return {type: 'line', xAxisIndex: i, yAxisIndex: i, data: data, symbol: 'none', showSymbol: false, smooth: false,
    lineStyle: {color: color, width: LW, join: 'round'}, z: 2, silent: true};
}
function dots(data, i) {
  return {type: 'scatter', xAxisIndex: i, yAxisIndex: i, data: data, symbol: 'circle', symbolSize: DOT,
    itemStyle: {color: '#000', opacity: 1}, z: 3, silent: true};
}
function band(i, level, half) {
  return {type: 'line', xAxisIndex: i, yAxisIndex: i, data: [], z: 1, silent: true,
    markArea: {silent: true, itemStyle: {color: BANDC, opacity: 1, borderWidth: 0}, label: {show: false},
      data: [[{yAxis: level - half}, {yAxis: level + half}]]}};
}
function levelLine(i, range, level, color) {
  return {type: 'line', xAxisIndex: i, yAxisIndex: i, data: [[range[0], level], [range[1], level]], symbol: 'none',
    lineStyle: {color: color, width: LW}, z: 2, silent: true};
}

const series = [
  modelLine(model_sso_primary, 0, RED), modelLine(model_hal_primary, 0, BLUE),
  dots(sso_primary, 0), dots(hal_primary, 0),
  modelLine(model_sso_secondary, 1, RED), modelLine(model_hal_secondary, 1, BLUE),
  dots(sso_secondary, 1), dots(hal_secondary, 1),
  band(2, OC1_LEVELS[0], OC1_BAND), band(2, OC1_LEVELS[1], OC1_BAND),
  levelLine(2, X_LEFT, OC1_LEVELS[0], RED), levelLine(2, X_LEFT, OC1_LEVELS[1], BLUE),
  dots(oc_sso_primary, 2), dots(oc_hal_primary, 2),
  band(3, OC1_LEVELS[0], OC1_BAND), band(3, OC1_LEVELS[1], OC1_BAND),
  levelLine(3, X_RIGHT, OC1_LEVELS[0], RED), levelLine(3, X_RIGHT, OC1_LEVELS[1], BLUE),
  dots(oc_sso_secondary, 3), dots(oc_hal_secondary, 3),
  modelLine(model_kmt_primary, 4, GRAY), dots(kmt_primary, 4),
  modelLine(model_kmt_secondary, 5, GRAY), dots(kmt_secondary, 5),
  band(6, OC2_LEVEL, OC2_BAND), levelLine(6, X_LEFT, OC2_LEVEL, ZERO), dots(oc_kmt_primary, 6),
  band(7, OC2_LEVEL, OC2_BAND), levelLine(7, X_RIGHT, OC2_LEVEL, ZERO), dots(oc_kmt_secondary, 7)
];

function txt(x, y, text, size, opts) {
  opts = opts || {};
  return {type: 'text', x: x, y: y, rotation: opts.rotation || 0, silent: true, z: 100,
    style: {text: text, fontSize: size, fontFamily: FONT, fontWeight: opts.weight || 'normal',
      fill: opts.color || '#000', align: opts.align || 'center', verticalAlign: 'middle'}};
}
function ylabel(x, y, text) {
  return {type: 'text', x: x, y: y, rotation: Math.PI / 2, silent: true, z: 100,
    style: {text: text, fontSize: 53, fontFamily: FONT, fill: '#000', align: 'center', verticalAlign: 'middle',
      rich: {
        a: {fontSize: 53, fontFamily: FONT, fill: '#000'},
        i: {fontSize: 53, fontFamily: FONT, fontStyle: 'italic', fill: '#000'},
        s: {fontSize: 37, fontFamily: FONT, fontStyle: 'italic', fill: '#000', padding: [18, 0, 0, 0]}
      }}};
}

const graphic = [
  txt(648, 77, 'Primary eclipse', 73),
  txt(1364, 77, 'Secondary eclipse', 73),
  txt(314, 269, 'SSO', 46, {weight: 'bold', color: RED, align: 'left'}),
  txt(314, 388, 'Haleakala', 46, {weight: 'bold', color: BLUE, align: 'left'}),
  txt(314, 1015, 'KMT-SSO', 46, {weight: 'bold', color: GRAY, align: 'left'}),
  txt(1363, 523, "i'-band", 60),
  txt(1364, 1203, 'I-band', 60),
  txt(648, 1636, 'Phase', 52),
  txt(1364, 1636, 'Phase', 52),
  ylabel(109, 380, '{a|\u0394}{i|i}{s|LCO}{a| (mag)}'),
  ylabel(109, 730, '{a|(O-C) (mag)}'),
  ylabel(109, 1079, '{a|\u0394}{i|I}{s|KMT}{a| (mag)}'),
  ylabel(89, 1429, '{a|(O-C) (mag)}')
];

chart.setOption({
  animation: false,
  backgroundColor: '#ffffff',
  grid: grids,
  xAxis: xAxis,
  yAxis: yAxis,
  series: series,
  graphic: graphic
});
</script>
</body>
</html>
